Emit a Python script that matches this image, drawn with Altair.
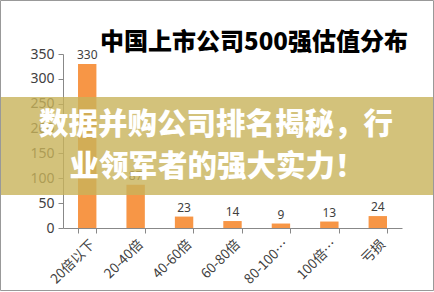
import altair as alt
import pandas as pd

categories = ["20倍以下", "20-40倍", "40-60倍", "60-80倍", "80-100…", "100倍…", "亏损"]
values = [330, 87, 23, 14, 9, 13, 24]
title_text = "中国上市公司500强估值分布"
banner_lines = ["数据并购公司排名揭秘，行", "业领军者的强大实力！"]

df = pd.DataFrame({"cat": categories, "val": values})

W, H = 339, 174
FONT = "Noto Sans CJK SC"

x = alt.X("cat:N", sort=categories, title=None,
          scale=alt.Scale(paddingInner=0.62, paddingOuter=0.31),
          axis=alt.Axis(labelAngle=-45, labelFontSize=13.5, labelColor="#404040",
                        labelFont=FONT, domainColor="#888888", tickColor="#888888",
                        tickSize=5, tickBand="extent", labelPadding=4,
                        labelOverlap=False))
y = alt.Y("val:Q", title=None,
          scale=alt.Scale(domain=[0, 350], nice=False),
          axis=alt.Axis(values=[0, 50, 100, 150, 200, 250, 300, 350], grid=False,
                        labelFontSize=14, labelColor="#404040", labelFont="Noto Sans",
                        domainColor="#888888", tickColor="#888888", tickSize=5,
                        labelPadding=4, labelOverlap=False))

base = alt.Chart(df)
bars = base.mark_bar(color="#F79646").encode(x=x, y=y)
labels = base.mark_text(dy=-9, fontSize=12, color="#404040", font="Noto Sans").encode(
    x=x, y=y, text="val:Q")

title = alt.Chart(pd.DataFrame({"t": [title_text]})).mark_text(
    fontSize=24, fontWeight=900, color="#000000", font=FONT, align="center",
    baseline="middle").encode(x=alt.value(191), y=alt.value(-11), text="t:N")

band = alt.Chart(pd.DataFrame({"a": [0]})).mark_rect(
    color="#C8B35A", opacity=0.8, clip=False).encode(
    x=alt.value(-63), x2=alt.value(371), y=alt.value(43), y2=alt.value(141))

banner1 = alt.Chart(pd.DataFrame({"t": [banner_lines[0]]})).mark_text(
    fontSize=29.5, fontWeight=900, color="#FFFFFF", font=FONT, align="center",
    baseline="middle").encode(x=alt.value(153), y=alt.value(71), text="t:N")
banner2 = alt.Chart(pd.DataFrame({"t": [banner_lines[1]]})).mark_text(
    fontSize=29.5, fontWeight=900, color="#FFFFFF", font=FONT, align="center",
    baseline="middle").encode(x=alt.value(154), y=alt.value(113), text="t:N")

border = alt.Chart(pd.DataFrame({"a": [0]})).mark_rect(
    fill=None, stroke="#999999", strokeWidth=1, clip=False).encode(
    x=alt.value(-62.5), x2=alt.value(370.5), y=alt.value(-53.5), y2=alt.value(236.5))

chart = alt.layer(bars, labels, title, band, banner1, banner2, border).properties(
    width=W, height=H,
    autosize=alt.AutoSizeParams(type="none"),
    padding={"left": 63, "top": 54, "right": 32, "bottom": 64},
    background="#FFFFFF",
).configure_view(stroke=None)

chart.save("out.html", embed_options={"renderer": "svg", "actions": False})
